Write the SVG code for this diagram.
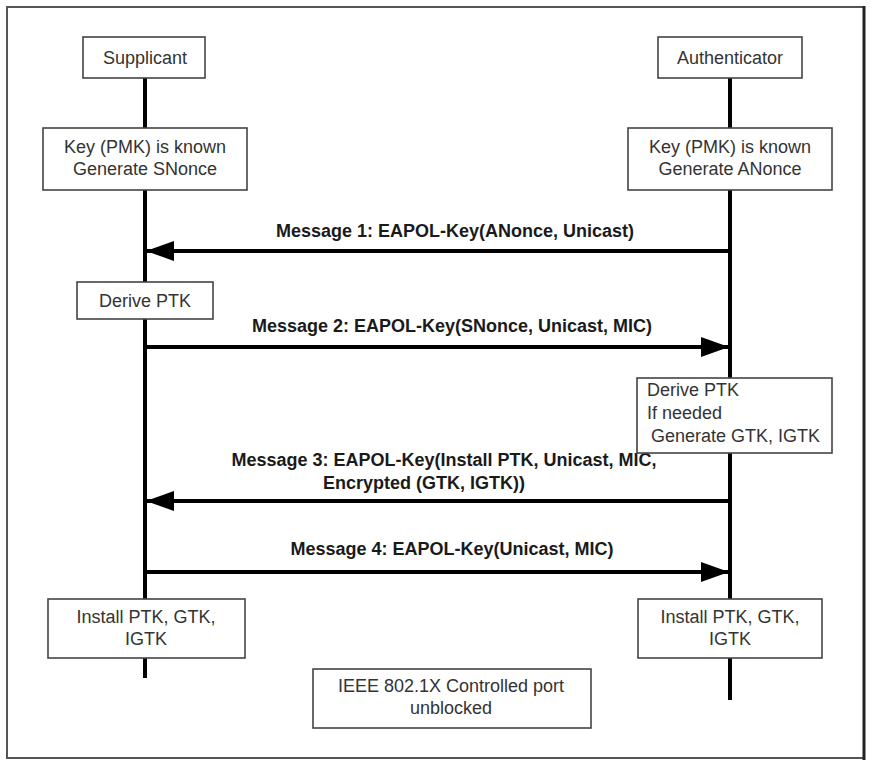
<svg xmlns="http://www.w3.org/2000/svg" width="872" height="766" viewBox="0 0 872 766">
<style>
.box{fill:#fff;stroke:#444;stroke-width:1.6}
.t{font-family:"Liberation Sans",Arial,sans-serif;font-size:18px;fill:#333}
.c{text-anchor:middle}
.m{font-family:"Liberation Sans",Arial,sans-serif;font-size:18px;font-weight:bold;fill:#1a1a1a;text-anchor:middle}
.life{stroke:#000;stroke-width:4;fill:none}
.msg{stroke:#000;stroke-width:4;fill:none}
</style>
<defs>
<marker id="ah" viewBox="0 0 28 20" refX="28" refY="10" markerWidth="28" markerHeight="20" markerUnits="userSpaceOnUse" orient="auto">
<path d="M0,0 L28,10 L0,20 Z" fill="#000"/>
</marker>
</defs>
<rect x="0" y="0" width="872" height="766" fill="#fff"/>
<g id="frame">
<path d="M864,7 L7,7 L7,758 L864,758" fill="none" stroke="#555" stroke-width="2"/>
<line x1="864" y1="6" x2="864" y2="760" stroke="#222" stroke-width="3"/>
</g>
<g id="lifelines">
<line class="life" x1="145" y1="78" x2="145" y2="678"/>
<line class="life" x1="730" y1="78" x2="730" y2="700"/>
</g>
<g id="connectors">
<line class="msg" x1="730" y1="251" x2="146" y2="251" marker-end="url(#ah)"/>
<line class="msg" x1="145" y1="347" x2="729" y2="347" marker-end="url(#ah)"/>
<line class="msg" x1="730" y1="501" x2="146" y2="501" marker-end="url(#ah)"/>
<line class="msg" x1="145" y1="572" x2="729" y2="572" marker-end="url(#ah)"/>
<text class="m" x="455" y="237">Message 1: EAPOL-Key(ANonce, Unicast)</text>
<text class="m" x="452" y="332">Message 2: EAPOL-Key(SNonce, Unicast, MIC)</text>
<text class="m" x="444" y="466">Message 3: EAPOL-Key(Install PTK, Unicast, MIC,</text>
<text class="m" x="424" y="489">Encrypted (GTK, IGTK))</text>
<text class="m" x="452" y="555">Message 4: EAPOL-Key(Unicast, MIC)</text>
</g>
<g id="supplicant">
<rect class="box" x="83" y="37" width="122" height="41"/>
<text class="t c" x="145" y="64">Supplicant</text>
</g>
<g id="authenticator">
<rect class="box" x="658" y="37" width="144" height="41"/>
<text class="t c" x="730" y="64">Authenticator</text>
</g>
<g id="s-key">
<rect class="box" x="43" y="128" width="204" height="62"/>
<text class="t c" x="145" y="153">Key (PMK) is known</text>
<text class="t c" x="145" y="175">Generate SNonce</text>
</g>
<g id="a-key">
<rect class="box" x="628" y="128" width="204" height="62"/>
<text class="t c" x="730" y="153">Key (PMK) is known</text>
<text class="t c" x="730" y="175">Generate ANonce</text>
</g>
<g id="s-derive">
<rect class="box" x="77" y="282" width="136" height="37"/>
<text class="t c" x="145" y="307">Derive PTK</text>
</g>
<g id="a-derive">
<rect class="box" x="637" y="378" width="195" height="75"/>
<text class="t" x="647" y="396">Derive PTK</text>
<text class="t" x="647" y="419">If needed</text>
<text class="t" x="651" y="442">Generate GTK, IGTK</text>
</g>
<g id="s-install">
<rect class="box" x="48" y="599" width="197" height="59"/>
<text class="t c" x="146" y="623">Install PTK, GTK,</text>
<text class="t c" x="146" y="645">IGTK</text>
</g>
<g id="a-install">
<rect class="box" x="638" y="599" width="184" height="59"/>
<text class="t c" x="730" y="623">Install PTK, GTK,</text>
<text class="t c" x="730" y="645">IGTK</text>
</g>
<g id="port">
<rect class="box" x="313" y="669" width="278" height="59"/>
<text class="t c" x="451" y="692">IEEE 802.1X Controlled port</text>
<text class="t c" x="451" y="714">unblocked</text>
</g>
</svg>
